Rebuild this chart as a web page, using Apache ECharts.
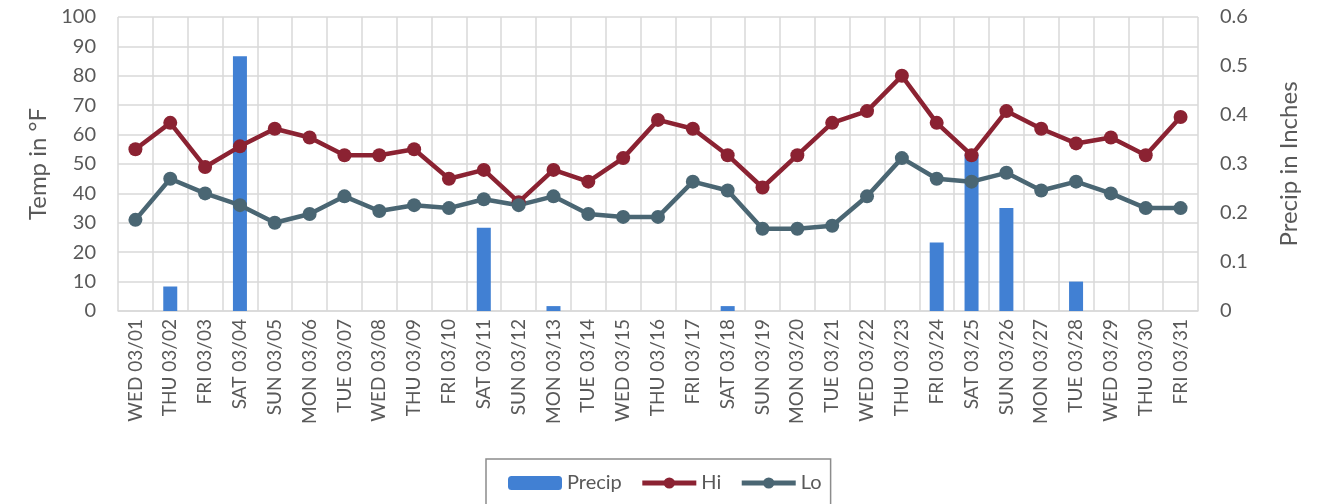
<!DOCTYPE html>
<html>
<head>
<meta charset="utf-8">
<script src="https://cdn.jsdelivr.net/npm/echarts@6/dist/echarts.min.js"></script>
<style>
html,body{margin:0;padding:0;background:#fff;}
#chart{width:1336px;height:504px;}
</style>
</head>
<body>
<div id="chart"></div>
<script>
const categories = ["WED 03/01","THU 03/02","FRI 03/03","SAT 03/04","SUN 03/05","MON 03/06","TUE 03/07","WED 03/08","THU 03/09","FRI 03/10","SAT 03/11","SUN 03/12","MON 03/13","TUE 03/14","WED 03/15","THU 03/16","FRI 03/17","SAT 03/18","SUN 03/19","MON 03/20","TUE 03/21","WED 03/22","THU 03/23","FRI 03/24","SAT 03/25","SUN 03/26","MON 03/27","TUE 03/28","WED 03/29","THU 03/30","FRI 03/31"];
const precip = [0,0.05,0,0.52,0,0,0,0,0,0,0.17,0,0.01,0,0,0,0,0.01,0,0,0,0,0,0.14,0.32,0.21,0,0.06,0,0,0];
const hi = [55,64,49,56,62,59,53,53,55,45,48,37,48,44,52,65,62,53,42,53,64,68,80,64,53,68,62,57,59,53,66];
const lo = [31,45,40,36,30,33,39,34,36,35,38,36,39,33,32,32,44,41,28,28,29,39,52,45,44,47,41,44,40,35,35];
const tempTicks = {min:0, max:100, interval:10};
const precipTicks = {min:0, max:0.6, interval:0.1};

const FONT = 'Lato, "Open Sans", sans-serif';
const TXT = '#595959';
const GRID = '#d9d9d9';

const chart = echarts.init(document.getElementById('chart'), null, {renderer:'canvas'});
chart.setOption({
  animation:false,
  textStyle:{fontFamily:FONT, color:TXT},
  grid:{left:118, right:138, top:17, bottom:193, containLabel:false},
  legend:{
    left:486, top:459,
    data:['Precip','Hi','Lo'],
    itemWidth:54, itemHeight:14, itemGap:18,
    padding:[14,9,14,22],
    borderColor:'#8c8c8c', borderWidth:1.5,
    lineStyle:{width:5},
    textStyle:{fontFamily:FONT, fontSize:20, color:TXT}
  },
  xAxis:{
    type:'category', data:categories, boundaryGap:true,
    axisLine:{show:true, lineStyle:{color:GRID, width:1.5}},
    axisTick:{show:false},
    splitLine:{show:true, lineStyle:{color:GRID, width:1.5}},
    axisLabel:{rotate:90, interval:0, fontSize:19, color:TXT, fontFamily:FONT, margin:8}
  },
  yAxis:[{
    type:'value', min:tempTicks.min, max:tempTicks.max, interval:tempTicks.interval,
    name:'Temp in °F', nameLocation:'middle', nameGap:68, nameRotate:90,
    nameTextStyle:{fontSize:24, color:TXT, fontFamily:FONT},
    axisLine:{show:false}, axisTick:{show:false},
    splitLine:{show:true, lineStyle:{color:GRID, width:1.5}},
    axisLabel:{fontSize:20, color:TXT, fontFamily:FONT, margin:22}
  },{
    type:'value', min:precipTicks.min, max:precipTicks.max, interval:precipTicks.interval,
    name:'Precip in Inches', nameLocation:'middle', nameGap:79, nameRotate:90,
    nameTextStyle:{fontSize:24, color:TXT, fontFamily:FONT},
    axisLine:{show:false}, axisTick:{show:false},
    splitLine:{show:false},
    axisLabel:{fontSize:20, color:TXT, fontFamily:FONT, margin:22,
      formatter:v=>String(Math.round(v*10)/10)}
  }],
  series:[{
    name:'Precip', type:'bar', yAxisIndex:1, data:precip, barWidth:14,
    itemStyle:{color:'#4180d3'}
  },{
    name:'Hi', type:'line', yAxisIndex:0, data:hi,
    symbol:'circle', symbolSize:14,
    lineStyle:{color:'#8b2232', width:4.5}, itemStyle:{color:'#8b2232'}
  },{
    name:'Lo', type:'line', yAxisIndex:0, data:lo,
    symbol:'circle', symbolSize:14,
    lineStyle:{color:'#4a6673', width:4.5}, itemStyle:{color:'#4a6673'}
  }]
});
</script>
</body>
</html>
